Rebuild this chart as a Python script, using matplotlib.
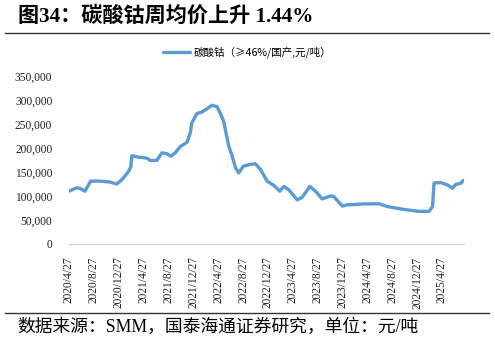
import matplotlib.pyplot as plt
from matplotlib.lines import Line2D
from matplotlib.ticker import FuncFormatter
import pandas as pd

plt.rcParams['font.family'] = ['Liberation Serif', 'Noto Sans CJK SC']

# 碳酸钴周均价（元/吨）
dates = ['2020-04-27', '2020-06-03', '2020-06-20', '2020-07-14', '2020-08-11',
         '2020-09-26', '2020-11-14', '2020-12-17', '2021-01-11', '2021-02-12',
         '2021-02-23', '2021-03-01', '2021-04-02', '2021-05-13', '2021-05-30',
         '2021-07-01', '2021-07-26', '2021-08-20', '2021-09-08', '2021-09-29',
         '2021-10-24', '2021-11-26', '2021-12-12', '2021-12-20', '2022-01-14',
         '2022-02-07', '2022-03-04', '2022-03-28', '2022-04-22', '2022-05-08',
         '2022-05-24', '2022-06-18', '2022-07-05', '2022-07-21', '2022-08-06',
         '2022-08-28', '2022-10-03', '2022-10-27', '2022-11-21', '2022-12-23',
         '2023-01-25', '2023-02-23', '2023-03-15', '2023-04-08', '2023-05-19',
         '2023-06-12', '2023-07-20', '2023-08-17', '2023-09-18', '2023-10-29',
         '2023-11-14', '2023-12-26', '2024-01-19', '2024-04-10', '2024-06-22',
         '2024-08-03', '2024-10-23', '2025-01-05', '2025-02-23', '2025-03-12',
         '2025-03-19', '2025-04-21', '2025-05-24', '2025-06-17', '2025-07-03',
         '2025-07-27', '2025-08-06', '2025-08-13']
prices = [110000, 117000, 116000, 110000, 131000,
          131000, 129000, 125000, 134000, 151000,
          160000, 184000, 181000, 179000, 174000,
          174000, 190000, 188000, 183000, 190000,
          203000, 212000, 232000, 253000, 272000,
          275000, 282000, 289000, 286000, 272000,
          256000, 204000, 183000, 159000, 148000,
          162000, 166000, 167000, 155000, 131000,
          122000, 110000, 120000, 113000, 92000,
          97000, 120000, 110000, 94000, 100000,
          99000, 79000, 81500, 83500, 83800,
          78000, 72000, 68000, 68000, 78000,
          127000, 128000, 123000, 116000, 124000,
          126000, 131000, 132900]

tick_labels = ['2020/4/27', '2020/8/27', '2020/12/27', '2021/4/27', '2021/8/27',
               '2021/12/27', '2022/4/27', '2022/8/27', '2022/12/27', '2023/4/27',
               '2023/8/27', '2023/12/27', '2024/4/27', '2024/8/27', '2024/12/27',
               '2025/4/27']

x = pd.to_datetime(dates)
ticks = pd.to_datetime(tick_labels, format='%Y/%m/%d')

fig = plt.figure(figsize=(4.95, 3.48), dpi=100)
ax = fig.add_axes([69 / 495, 1 - 244 / 348, 395 / 495, 168 / 348])

line, = ax.plot(x, prices, color='#5B9BD5', lw=2.4, solid_capstyle='round',
                solid_joinstyle='round', label='碳酸钴（≥46%/国产,元/吨）')

ax.set_ylim(0, 350000)
ax.set_yticks(range(0, 350001, 50000))
ax.yaxis.set_major_formatter(FuncFormatter(lambda v, p: f'{int(v):,}'))
ax.set_xlim(x[0], x[-1])
ax.set_xticks(ticks)
ax.set_xticklabels(tick_labels, rotation=90, va='top', ha='center')
ax.tick_params(axis='both', length=0, labelsize=8.3, colors='#222222')
ax.tick_params(axis='y', pad=12)
ax.tick_params(axis='x', pad=9)

for side in ['left', 'right', 'top']:
    ax.spines[side].set_visible(False)
ax.spines['bottom'].set_color('#D9D9D9')
ax.spines['bottom'].set_linewidth(1)

fig.legend(handles=[line], loc='center', bbox_to_anchor=(247 / 495, 1 - 52 / 348),
           frameon=False, handlelength=2.6, handletextpad=0.3,
           prop={'family': ['Noto Sans CJK SC'], 'size': 7.6})

# 标题与来源
fig.text(18 / 495, 1 - 16.5 / 348, '图34：碳酸钴周均价上升 1.44%', fontsize=15.2,
         fontweight='bold', va='center', ha='left')
fig.text(17 / 495, 1 - 327 / 348, '数据来源：SMM，国泰海通证券研究，单位：元/吨',
         fontsize=12.8, va='center', ha='left')
fig.add_artist(Line2D([5 / 495, 489 / 495], [1 - 33.3 / 348] * 2, color='#333333', lw=1))
fig.add_artist(Line2D([5 / 495, 489 / 495], [1 - 313 / 348] * 2, color='#333333', lw=1))

fig.savefig('out.png', dpi=100)
